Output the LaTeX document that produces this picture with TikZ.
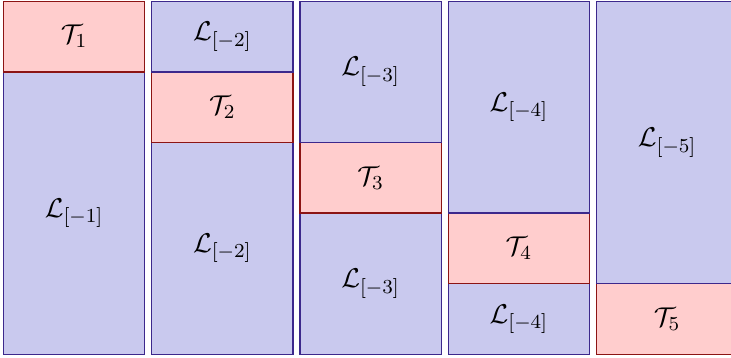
\documentclass[tikz,border=0pt]{standalone}
\definecolor{lfill}{RGB}{201,201,238}
\definecolor{ldraw}{RGB}{60,40,140}
\definecolor{tfill}{RGB}{255,205,205}
\definecolor{tdraw}{RGB}{140,20,20}
\begin{document}
\begin{tikzpicture}[
  every node/.style={font=\fontsize{11}{13}\selectfont},
  lbox/.style={draw=ldraw, fill=lfill, rectangle, inner sep=0pt, minimum width=2cm, anchor=south west, line width=0.5pt},
  tbox/.style={draw=tdraw, fill=tfill, rectangle, inner sep=0pt, minimum width=2cm, minimum height=1cm, anchor=south west, line width=0.5pt}
]
\useasboundingbox (-0.042,-0.03) rectangle (10.312,5.027);
% column 1
\node[lbox, minimum height=4cm] (l1) at (0,0) {$\mathcal{L}_{[-1]}$};
\node[tbox] (t1) at (0,4) {$\mathcal{T}_1$};
% column 2
\node[lbox, minimum height=3cm] (l2b) at (2.1,0) {$\mathcal{L}_{[-2]}$};
\node[tbox] (t2) at (2.1,3) {$\mathcal{T}_2$};
\node[lbox, minimum height=1cm] (l2a) at (2.1,4) {$\mathcal{L}_{[-2]}$};
% column 3
\node[lbox, minimum height=2cm] (l3b) at (4.2,0) {$\mathcal{L}_{[-3]}$};
\node[tbox] (t3) at (4.2,2) {$\mathcal{T}_3$};
\node[lbox, minimum height=2cm] (l3a) at (4.2,3) {$\mathcal{L}_{[-3]}$};
% column 4
\node[lbox, minimum height=1cm] (l4b) at (6.3,0) {$\mathcal{L}_{[-4]}$};
\node[tbox] (t4) at (6.3,1) {$\mathcal{T}_4$};
\node[lbox, minimum height=3cm] (l4a) at (6.3,2) {$\mathcal{L}_{[-4]}$};
% column 5
\node[tbox] (t5) at (8.4,0) {$\mathcal{T}_5$};
\node[lbox, minimum height=4cm] (l5) at (8.4,1) {$\mathcal{L}_{[-5]}$};
\end{tikzpicture}
\end{document}
